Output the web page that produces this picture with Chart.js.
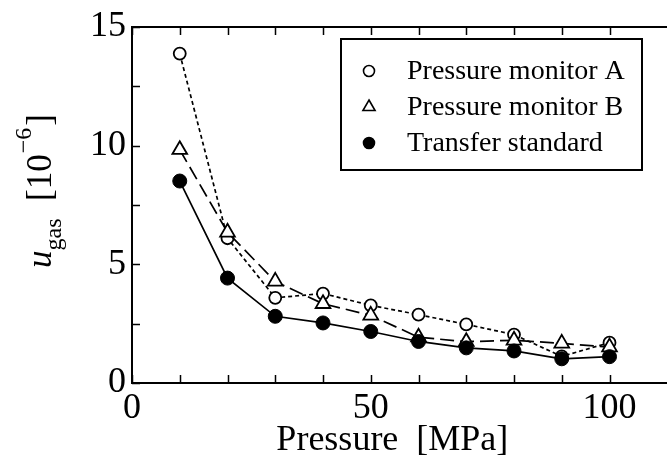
<!DOCTYPE html>
<html>
<head>
<meta charset="utf-8">
<style>
  html, body { margin: 0; padding: 0; background: #fff; overflow: hidden; }
  #wrap { position: relative; width: 690px; height: 469px; }
</style>
<script src="https://cdn.jsdelivr.net/npm/chart.js@4/dist/chart.umd.min.js"></script>
</head>
<body>
<div id="wrap"><canvas id="chart" width="690" height="469"></canvas></div>
<script>
// Gas-related uncertainty u_gas (×10^-6) against pressure (MPa)
const pressure    = [10, 20, 30, 40, 50, 60, 70, 80, 90, 100];
const monitorA    = [13.88, 6.10, 3.59, 3.77, 3.27, 2.88, 2.47, 2.04, 1.12, 1.70];
const monitorB    = [9.83, 6.35, 4.28, 3.34, 2.85, 1.93, 1.74, 1.80, 1.67, 1.51];
const transferStd = [8.51, 4.42, 2.81, 2.53, 2.17, 1.75, 1.48, 1.35, 1.02, 1.11];

const seriesLabels = ['Pressure monitor A', 'Pressure monitor B', 'Transfer standard'];

// Axis ticks: every value gets an inward tick mark, only some get a label
const xTickValues  = [0, 10, 20, 30, 40, 50, 60, 70, 80, 90, 100];
const xTickLabeled = [0, 50, 100];
const yTickValues  = [0, 2.5, 5, 7.5, 10, 12.5, 15];
const yTickLabeled = [0, 5, 10, 15];

const SERIF = '"Liberation Serif", "Times New Roman", serif';

function toPoints(xs, ys) {
  return xs.map((x, i) => ({ x: x, y: ys[i] }));
}

// Closed frame with inward tick marks on all four sides
const framePlugin = {
  id: 'frame',
  afterDatasetsDraw(chart) {
    const { ctx, chartArea: a, scales } = chart;
    ctx.save();
    ctx.strokeStyle = '#000';
    ctx.lineWidth = 2;
    ctx.strokeRect(a.left, a.top, a.right - a.left, a.bottom - a.top);
    ctx.lineWidth = 1.5;
    const len = 8;
    ctx.beginPath();
    scales.x.ticks.forEach(t => {
      const px = Math.round(scales.x.getPixelForValue(t.value)) + 0.5;
      ctx.moveTo(px, a.bottom); ctx.lineTo(px, a.bottom - len);
      ctx.moveTo(px, a.top);    ctx.lineTo(px, a.top + len);
    });
    scales.y.ticks.forEach(t => {
      const py = Math.round(scales.y.getPixelForValue(t.value)) + 0.5;
      ctx.moveTo(a.left, py);  ctx.lineTo(a.left + len, py);
      ctx.moveTo(a.right, py); ctx.lineTo(a.right - len, py);
    });
    ctx.stroke();
    ctx.restore();
  }
};

// Boxed legend in the upper right of the plot area
const boxLegendPlugin = {
  id: 'boxLegend',
  afterDraw(chart) {
    const { ctx } = chart;
    const box = { x: 341, y: 39, w: 301, h: 131 };
    ctx.save();
    ctx.strokeStyle = '#000';
    ctx.lineWidth = 2;
    ctx.strokeRect(box.x, box.y, box.w, box.h);
    ctx.font = '28px ' + SERIF;
    ctx.textBaseline = 'middle';
    ctx.textAlign = 'left';
    chart.data.datasets.forEach((ds, i) => {
      const cy = box.y + 32 + i * 36;
      const cx = box.x + 28;
      ctx.fillStyle = ds.pointBackgroundColor;
      ctx.strokeStyle = '#000';
      ctx.lineWidth = 1.6;
      Chart.helpers.drawPoint(ctx, {
        pointStyle: ds.pointStyle,
        radius: ds.pointStyle === 'triangle' ? 7 : 5.5,
        borderWidth: 1.6,
        rotation: 0
      }, cx, cy);
      ctx.fillStyle = '#000';
      ctx.fillText(ds.label, box.x + 66, cy + 1);
    });
    ctx.restore();
  }
};

// Vertical axis title with subscript and superscript
const yTitlePlugin = {
  id: 'yTitle',
  afterDraw(chart) {
    const { ctx } = chart;
    ctx.save();
    ctx.translate(51, 268);
    ctx.rotate(-Math.PI / 2);
    ctx.fillStyle = '#000';
    ctx.textBaseline = 'alphabetic';
    ctx.textAlign = 'left';
    let x = 0;
    ctx.font = 'italic 35px ' + SERIF;
    ctx.fillText('u', x, 0);
    x += ctx.measureText('u').width;
    ctx.font = '24px ' + SERIF;
    ctx.fillText('gas', x, 10);
    x += ctx.measureText('gas').width;
    ctx.font = '35px ' + SERIF;
    x += ctx.measureText('  ').width;
    ctx.fillText('[10', x, 0);
    x += ctx.measureText('[10').width + 1;
    ctx.font = '24px ' + SERIF;
    ctx.fillText('\u22126', x, -20);
    x += ctx.measureText('\u22126').width + 2;
    ctx.font = '35px ' + SERIF;
    ctx.fillText(']', x, 0);
    ctx.restore();
  }
};

const tickFont = { family: SERIF, size: 36, lineHeight: 1.1667 };

new Chart(document.getElementById('chart'), {
  type: 'line',
  data: {
    datasets: [
      {
        label: seriesLabels[0],
        data: toPoints(pressure, monitorA),
        borderColor: '#000',
        borderWidth: 1.7,
        borderDash: [4, 3],
        pointStyle: 'circle',
        pointRadius: 6,
        pointBorderWidth: 1.8,
        pointBorderColor: '#000',
        pointBackgroundColor: '#fff',
        order: 2
      },
      {
        label: seriesLabels[1],
        data: toPoints(pressure, monitorB),
        borderColor: '#000',
        borderWidth: 1.7,
        borderDash: [14, 6],
        pointStyle: 'triangle',
        pointRadius: 8.5,
        pointBorderWidth: 1.8,
        pointBorderColor: '#000',
        pointBackgroundColor: '#fff',
        order: 1
      },
      {
        label: seriesLabels[2],
        data: toPoints(pressure, transferStd),
        borderColor: '#000',
        borderWidth: 1.7,
        pointStyle: 'circle',
        pointRadius: 7,
        pointBorderWidth: 1,
        pointBorderColor: '#000',
        pointBackgroundColor: '#000',
        order: 0
      }
    ]
  },
  options: {
    responsive: false,
    animation: false,
    devicePixelRatio: 1,
    layout: { padding: { left: 0, top: 0, right: 8, bottom: 0 } },
    plugins: {
      legend: { display: false },
      tooltip: { enabled: false }
    },
    elements: { line: { tension: 0, fill: false } },
    scales: {
      x: {
        type: 'linear',
        min: 0,
        max: 114.7,
        afterBuildTicks(s) { s.ticks = xTickValues.map(v => ({ value: v })); },
        afterFit(s) { s.height = 86; },
        grid: { display: false, drawTicks: false },
        border: { display: false },
        ticks: {
          autoSkip: false,
          maxRotation: 0,
          padding: 5,
          color: '#000',
          font: tickFont,
          callback: v => (xTickLabeled.includes(v) ? String(v) : '')
        },
        title: {
          display: true,
          text: 'Pressure  [MPa]   ',
          color: '#000',
          font: { family: SERIF, size: 36, lineHeight: 1.2 },
          padding: { top: 0, bottom: 7 }
        }
      },
      y: {
        type: 'linear',
        min: 0,
        max: 15,
        afterBuildTicks(s) { s.ticks = yTickValues.map(v => ({ value: v })); },
        afterFit(s) { s.width = 132; },
        grid: { display: false, drawTicks: false },
        border: { display: false },
        ticks: {
          autoSkip: false,
          padding: 6,
          color: '#000',
          font: tickFont,
          callback: v => (yTickLabeled.includes(v) ? String(v) : '')
        }
      }
    }
  },
  plugins: [framePlugin, boxLegendPlugin, yTitlePlugin]
});
</script>
</body>
</html>
